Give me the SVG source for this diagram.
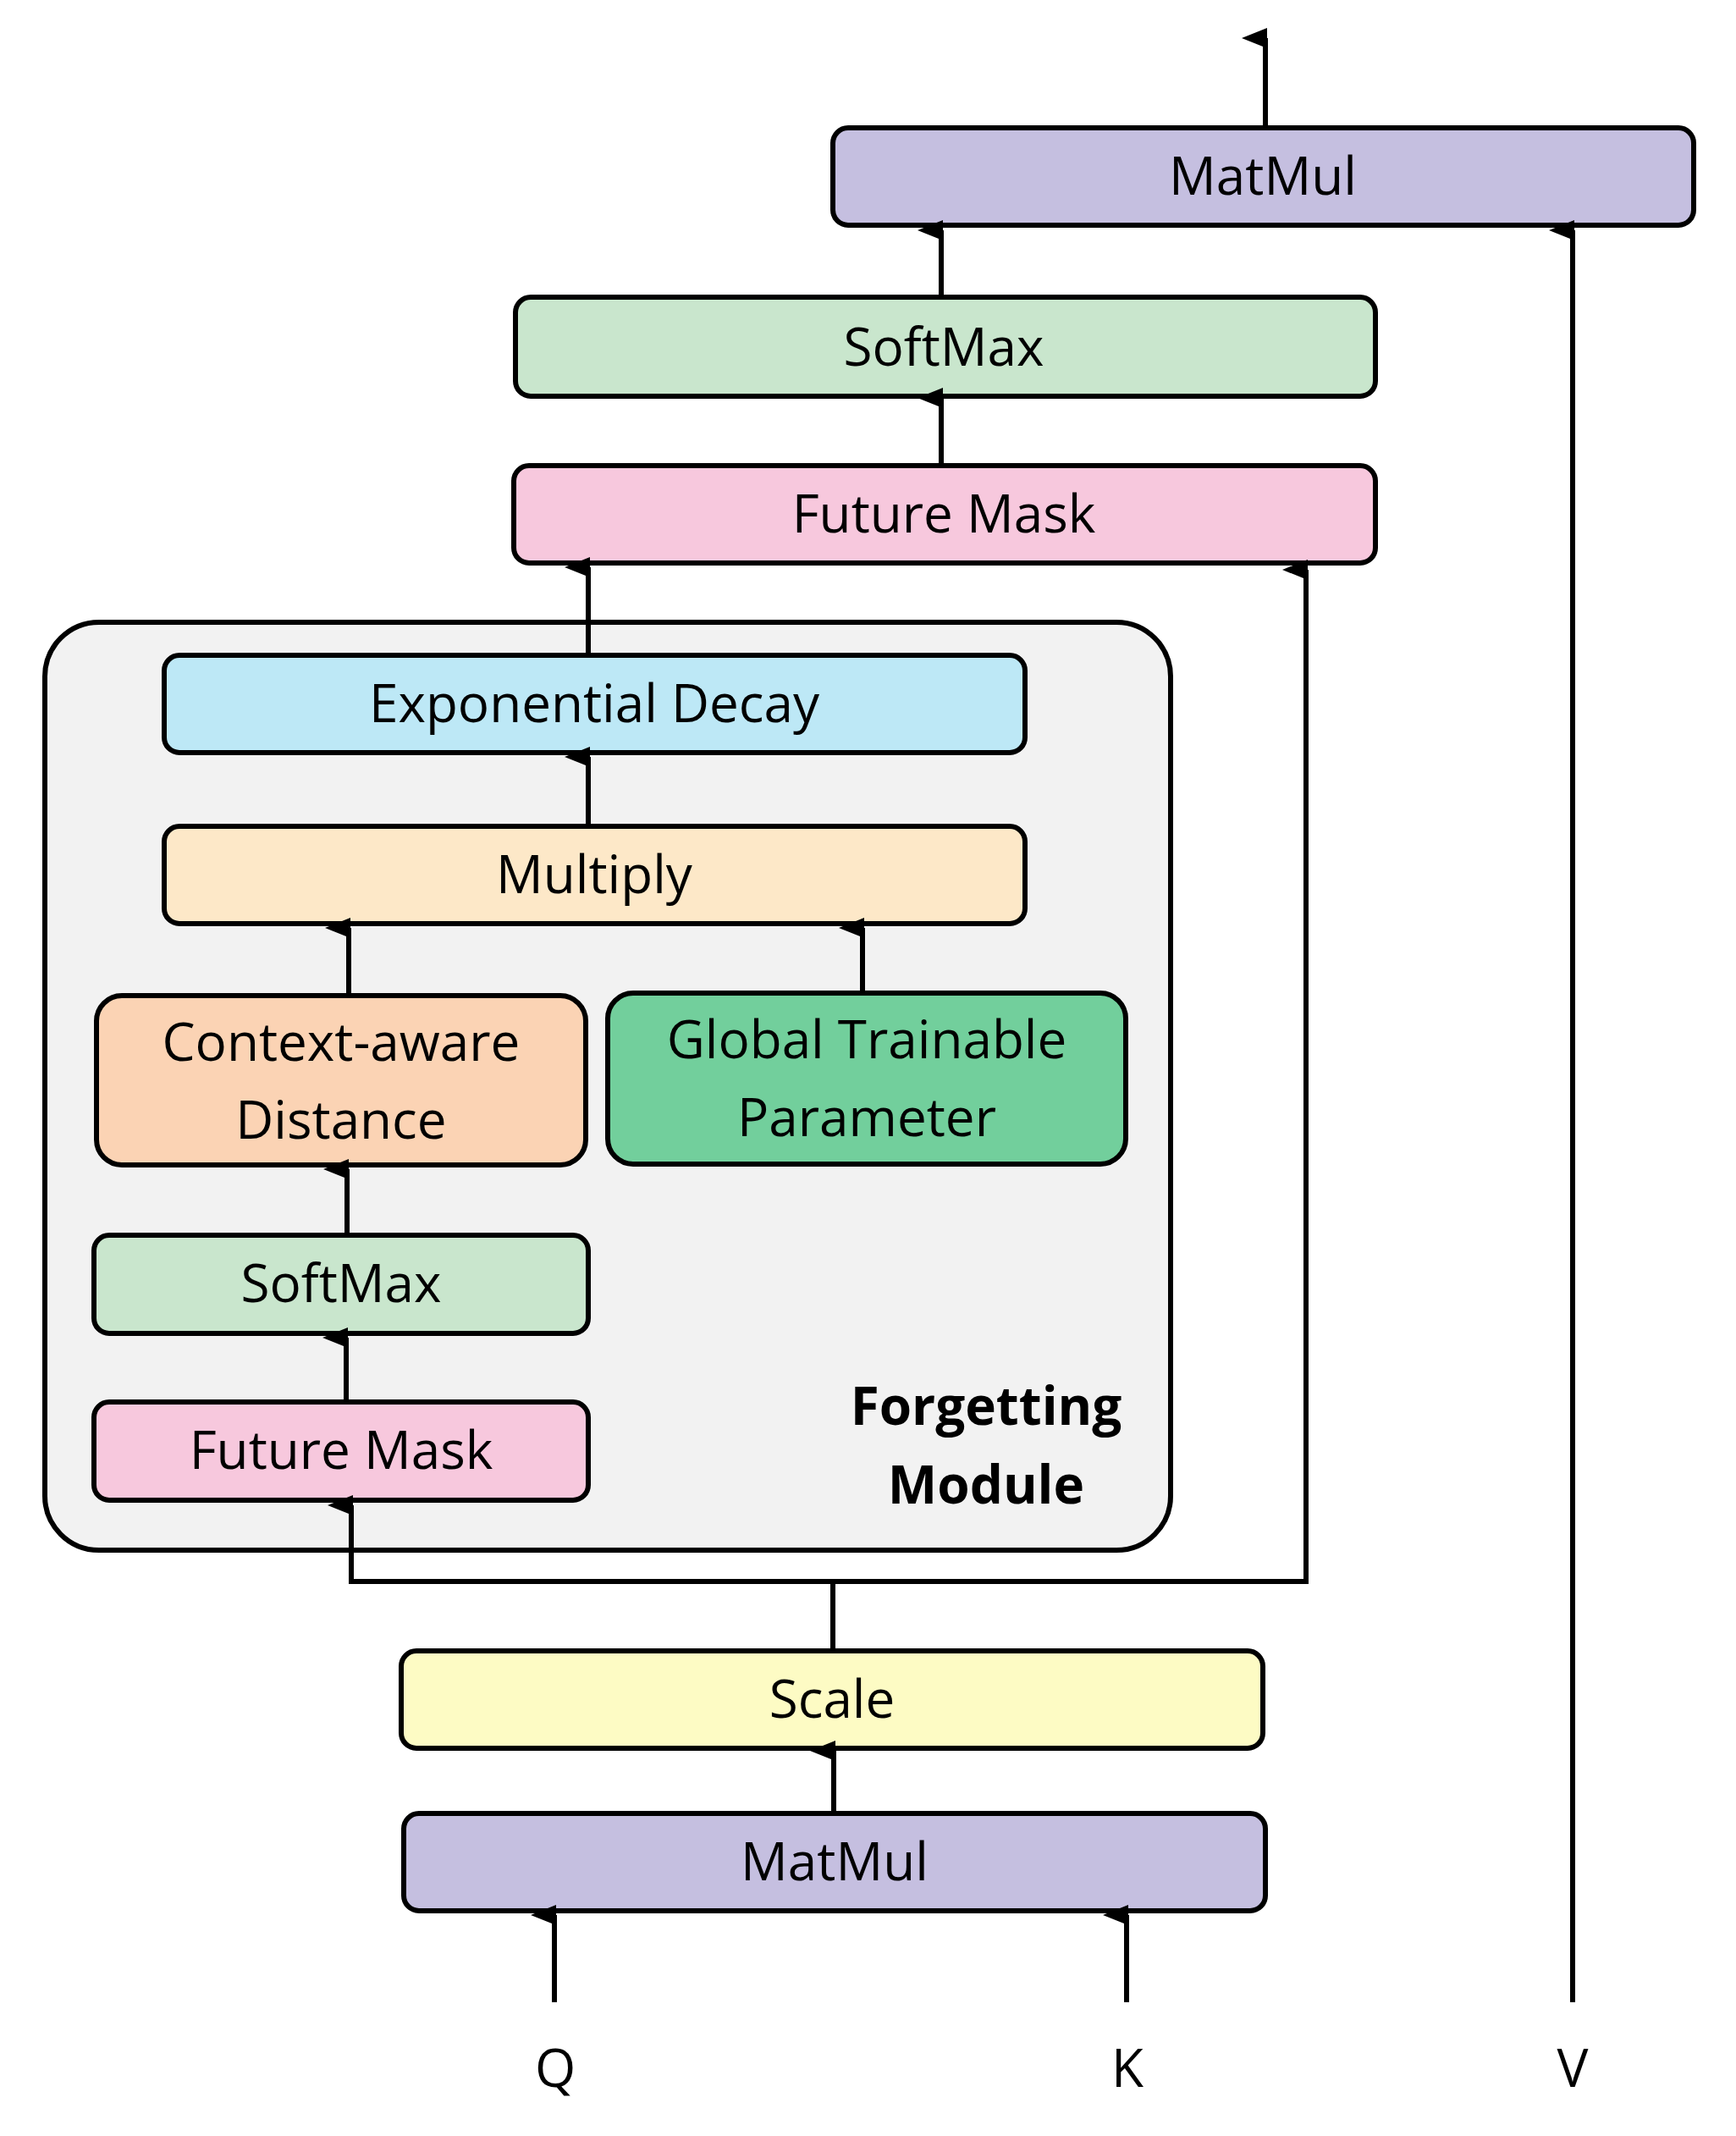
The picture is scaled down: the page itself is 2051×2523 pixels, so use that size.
<svg xmlns="http://www.w3.org/2000/svg" width="2051" height="2523" viewBox="0 0 2051 2523">
<defs>
<marker id="ah" markerUnits="userSpaceOnUse" markerWidth="24" markerHeight="30" refX="12" refY="28" orient="auto-start-reverse" viewBox="0 0 24 30">
<path d="M0,30 L12,0 L24,30 Z" fill="#000"/>
</marker>
<style>
.n{stroke:#000;stroke-width:6}
.t{font-family:"Open Sans","Noto Sans",sans-serif;font-size:62px;text-anchor:middle;fill:#000}
.c{stroke:#000;stroke-width:6;fill:none}
.a{marker-end:url(#ah)}
</style>
</defs>
<rect width="2051" height="2523" fill="#fff"/>
<g id="forgetting-module">
<rect x="53" y="735" width="1330" height="1096" rx="64" fill="#f2f2f2" class="n"/>
<text class="t" x="1165" y="1683" font-weight="bold" font-size="64">Forgetting</text>
<text class="t" x="1165" y="1776" font-weight="bold" font-size="64">Module</text>
</g>
<g id="matmul-top"><rect class="n" x="984" y="151" width="1017" height="115" rx="18" fill="#c5bfe0"/><text class="t" x="1492" y="230">MatMul</text></g>
<g id="softmax-top"><rect class="n" x="609" y="351" width="1016" height="117" rx="18" fill="#c9e6cd"/><text class="t" x="1115" y="432">SoftMax</text></g>
<g id="futuremask-top"><rect class="n" x="607" y="550" width="1018" height="115" rx="18" fill="#f7c8dd"/><text class="t" x="1115" y="629">Future Mask</text></g>
<g id="exp-decay"><rect class="n" x="194" y="774" width="1017" height="115" rx="18" fill="#bde8f6"/><text class="t" x="702" y="853">Exponential Decay</text></g>
<g id="multiply"><rect class="n" x="194" y="976" width="1017" height="115" rx="18" fill="#fde8c8"/><text class="t" x="702" y="1055">Multiply</text></g>
<g id="context-distance"><rect class="n" x="114" y="1176" width="578" height="200" rx="30" fill="#fbd3b4"/><text class="t" x="403" y="1253">Context-aware</text><text class="t" x="403" y="1345">Distance</text></g>
<g id="global-param"><rect class="n" x="718" y="1173" width="612" height="202" rx="30" fill="#72cf9c"/><text class="t" x="1024" y="1250">Global Trainable</text><text class="t" x="1024" y="1342">Parameter</text></g>
<g id="softmax-inner"><rect class="n" x="111" y="1459" width="584" height="116" rx="18" fill="#c9e6cd"/><text class="t" x="403" y="1538">SoftMax</text></g>
<g id="futuremask-inner"><rect class="n" x="111" y="1656" width="584" height="116" rx="18" fill="#f7c8dd"/><text class="t" x="403" y="1735">Future Mask</text></g>
<g id="scale"><rect class="n" x="474" y="1950" width="1018" height="115" rx="18" fill="#fdfbc4"/><text class="t" x="983" y="2029">Scale</text></g>
<g id="matmul-bottom"><rect class="n" x="477" y="2142" width="1018" height="115" rx="18" fill="#c5bfe0"/><text class="t" x="986" y="2221">MatMul</text></g>
<g id="inputs">
<text class="t" x="656" y="2465" font-size="70">Q</text>
<text class="t" x="1332" y="2465" font-size="70">K</text>
<text class="t" x="1858" y="2465" font-size="70">V</text>
</g>
<g id="connectors">
<line class="c a" x1="1495" y1="151" x2="1495" y2="45"/>
<line class="c a" x1="1112" y1="351" x2="1112" y2="272"/>
<line class="c a" x1="1112" y1="550" x2="1112" y2="470"/>
<line class="c a" x1="695" y1="774" x2="695" y2="670"/>
<line class="c a" x1="695" y1="976" x2="695" y2="894"/>
<line class="c a" x1="412" y1="1176" x2="412" y2="1096"/>
<line class="c a" x1="1019" y1="1173" x2="1019" y2="1096"/>
<line class="c a" x1="410" y1="1459" x2="410" y2="1381"/>
<line class="c a" x1="409" y1="1656" x2="409" y2="1580"/>
<polyline class="c" points="984,1948 984,1868"/>
<polyline class="c a" points="984,1868 415,1868 415,1778"/>
<polyline class="c a" points="984,1868 1543,1868 1543,673"/>
<line class="c a" x1="985" y1="2142" x2="985" y2="2068"/>
<line class="c a" x1="655" y1="2365" x2="655" y2="2262"/>
<line class="c a" x1="1331" y1="2365" x2="1331" y2="2262"/>
<line class="c a" x1="1858" y1="2365" x2="1858" y2="272"/>
</g>
</svg>
